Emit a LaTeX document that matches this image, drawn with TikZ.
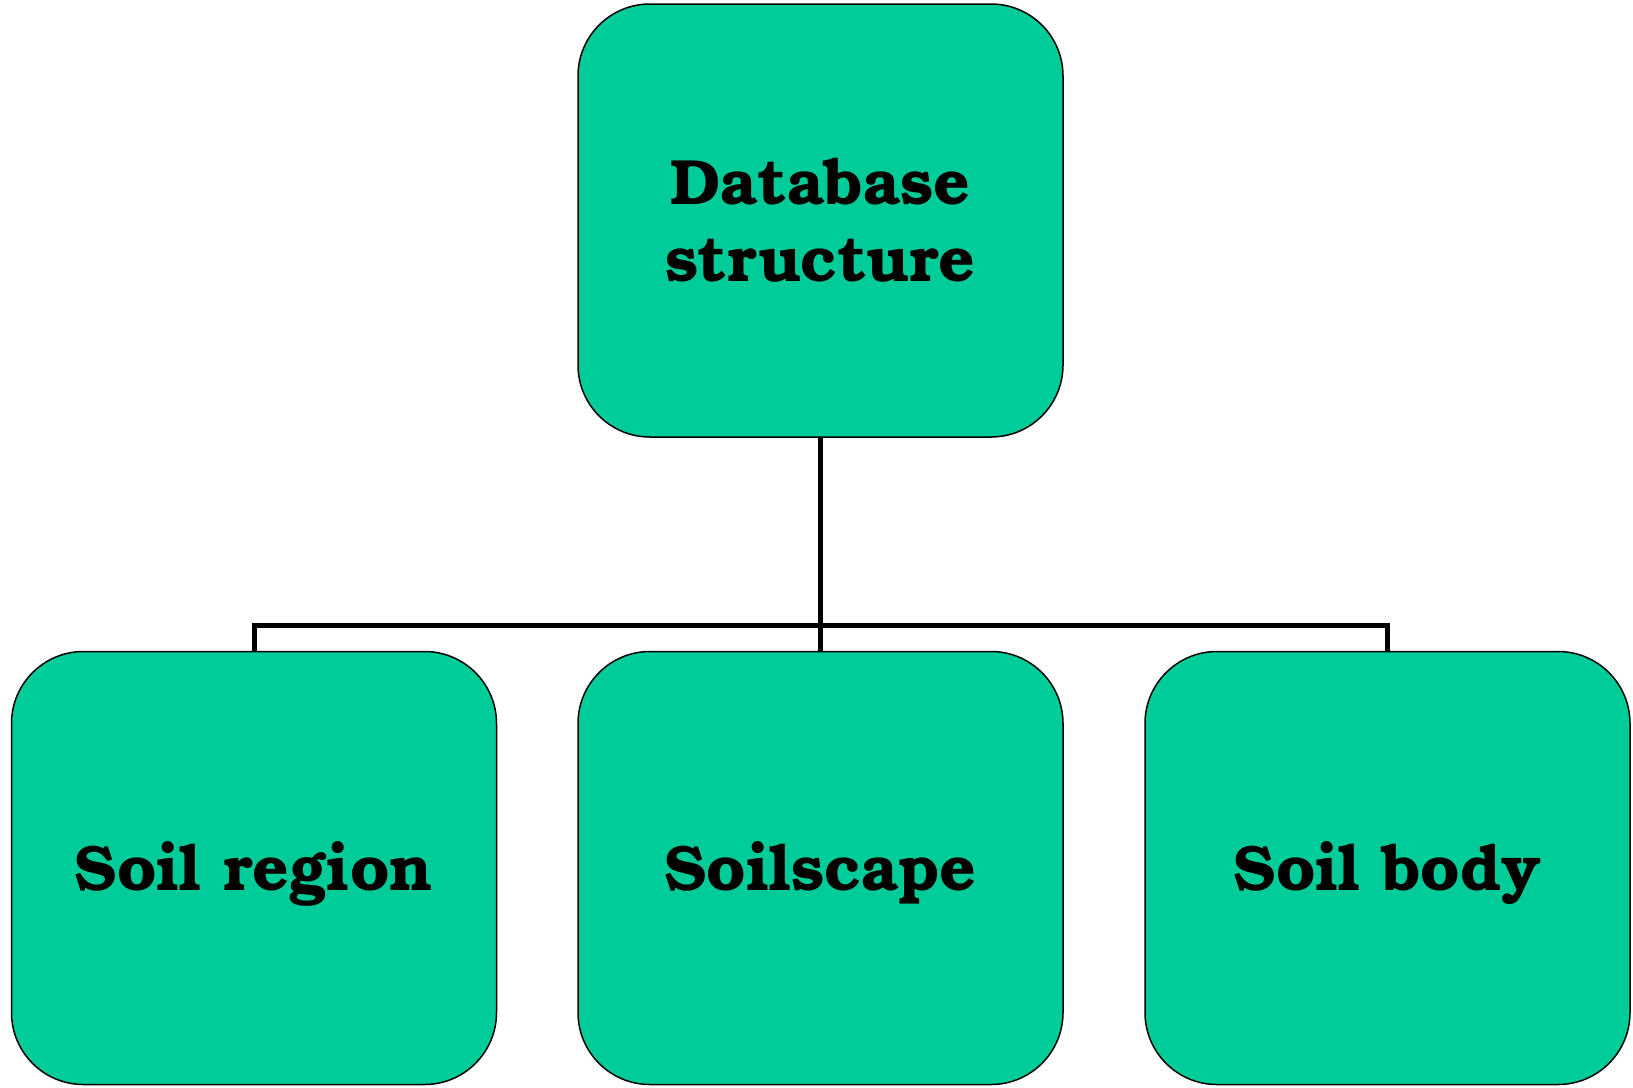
\documentclass[tikz,border=0pt]{standalone}
\usepackage{fontspec}
\setmainfont{texgyrebonum}[Extension=.otf, UprightFont=*-regular, BoldFont=*-bold]
\definecolor{boxgreen}{HTML}{00CC99}
\begin{document}
\begin{tikzpicture}[x=0.5pt, y=-0.5pt,
  box/.style={draw, line width=0.75pt, fill=boxgreen, rounded corners=36pt, align=center, minimum width=242.5pt, minimum height=216.5pt, font=\fontsize{32}{38.5}\selectfont\bfseries},
  leaf/.style={box, text height=22pt, text depth=0pt},
  link/.style={line width=2.5pt}]
\useasboundingbox (0,0) rectangle (1633,1087);
\node[box] (top) at (820.5,220.5) {Database\\structure};
\node[leaf] (region) at (254,868) {Soil region};
\node[leaf] (scape) at (820.5,868) {Soilscape};
\node[leaf] (body) at (1387.5,868) {Soil body};
\coordinate (fork) at (820.5,625);
\draw[link] (top.south) -- (scape.north);
\draw[link] (region.north) -- (region.north |- fork) -- (body.north |- fork) -- (body.north);
\end{tikzpicture}
\end{document}
